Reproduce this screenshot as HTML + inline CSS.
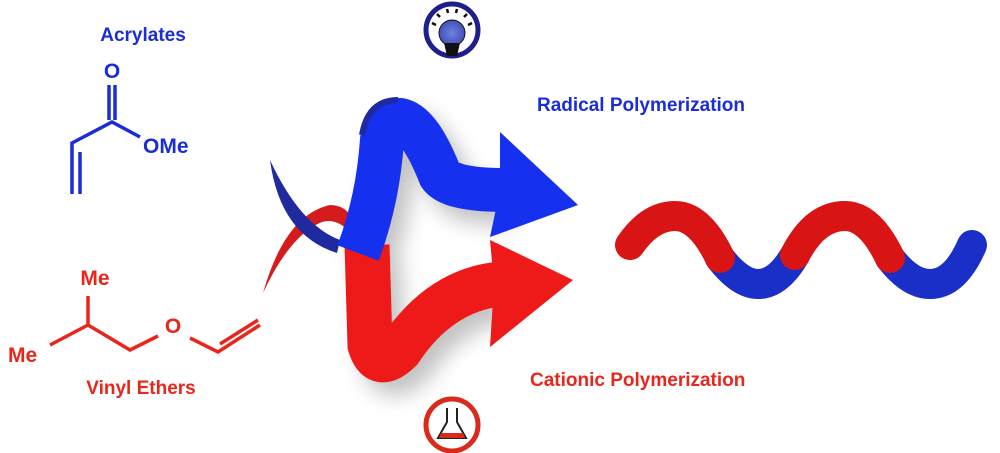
<!DOCTYPE html>
<html><head><style>
body{margin:0;background:#fff;}
svg{display:block;font-family:"Liberation Sans",Arial,sans-serif;font-weight:bold;}
</style></head><body>
<svg width="1000" height="453" viewBox="0 0 1000 453" xmlns="http://www.w3.org/2000/svg">
<defs>
<filter id="sh" x="-30%" y="-30%" width="160%" height="160%"><feGaussianBlur stdDeviation="10"/></filter>
<radialGradient id="bulb" cx="50%" cy="50%" r="60%"><stop offset="0" stop-color="#6f7fe0"/><stop offset="1" stop-color="#3a48b0"/></radialGradient>
</defs>
<!-- Acrylate -->
<g fill="#1b2ed6" font-size="19">
<text x="143" y="41" text-anchor="middle">Acrylates</text>
<text x="112" y="78" text-anchor="middle" font-size="21">O</text>
<text x="143" y="153" font-size="21">OMe</text>
</g>
<g stroke="#1b2ed6" stroke-width="3.5" fill="none">
<path d="M109,85 V120 M115,85 V120"/>
<path d="M140,137 L112,122 L72,143 V194 M80,152 V194"/>
</g>
<!-- Vinyl ether -->
<g fill="#e8261c" font-size="19">
<text x="95" y="285" text-anchor="middle" font-size="21">Me</text>
<text x="8" y="362" font-size="21">Me</text>
<text x="173" y="333" text-anchor="middle" font-size="21">O</text>
<text x="141" y="394" text-anchor="middle">Vinyl Ethers</text>
</g>
<g stroke="#e8261c" stroke-width="3.5" fill="none">
<path d="M88,296 V325 L50,345 M88,325 L130,350 L158,336"/>
<path d="M190,338 L218,352 L260,325 M220,344 L258,320"/>
</g>
<!-- icons -->
<circle cx="452" cy="30" r="26" fill="#fff" stroke="#1e1e8c" stroke-width="5"/>
<circle cx="452" cy="33" r="13" fill="url(#bulb)" stroke="#111" stroke-width="1"/>
<path d="M444,43 L460,43 L457,56 L447,56 Z" fill="#111"/>
<g stroke="#111" stroke-width="2.5"><path d="M436,25 l-4,-2 M440,17 l-3,-3 M448,13 l-1,-4 M456,13 l1,-4 M464,17 l3,-3 M468,25 l4,-2"/></g>
<circle cx="452" cy="425" r="26" fill="#fff" stroke="#d92a1c" stroke-width="5"/>
<path d="M447,408 V422 L438,438 H466 L457,422 V408" fill="none" stroke="#222" stroke-width="2"/>
<path d="M441,433 L439,438 H465 L463,433 Z" fill="#d92a1c"/>
<!-- shadows -->
<g filter="url(#sh)" opacity="0.35" transform="translate(12,14)">
<path d="M358,253 Q378,200 382,140 Q388,118 400,120 Q420,124 440,175 Q450,190 500,190" stroke="#555" stroke-width="44" fill="none"/>
<path d="M367,245 L370,345 Q378,372 400,350 Q440,290 500,284" stroke="#555" stroke-width="44" fill="none"/>
</g>
<!-- red tail -->
<path d="M263,293 Q285,215 330,205 Q345,205 352,218 L348,230 Q335,218 322,222 Q290,235 263,293 Z" fill="#d41c1c"/>
<!-- red ribbon -->
<path d="M367,245 L370,345 Q378,372 400,350 Q440,290 500,284" stroke="#ee1a1a" stroke-width="45" fill="none"/>
<polygon points="490,240 573,280 490,347 494,284" fill="#ee1a1a"/>
<!-- blue tail -->
<path d="M270,160 Q280,235 337,253 L340,240 Q300,225 270,160 Z" fill="#1e2a9e"/>
<!-- blue ribbon -->
<path d="M358,253 Q378,200 382,140 Q388,118 400,120 Q420,124 440,175 Q450,190 505,190" stroke="#1530ee" stroke-width="44" fill="none"/>
<path d="M362,135 Q368,100 398,100" stroke="#1e2a9e" stroke-width="6" fill="none"/>
<polygon points="500,132 578,205 490,237 500,190" fill="#1530ee"/>
<!-- labels -->
<text x="537" y="111" font-size="19" fill="#1b2ed6">Radical Polymerization</text>
<text x="530" y="386" font-size="19" fill="#e8261c">Cationic Polymerization</text>
<!-- polymer -->
<g fill="none" stroke-width="30" stroke-linecap="round">
<path d="M720,258 Q740,284 758,284 Q778,284 795,255" stroke="#1a2ec8"/>
<path d="M890,258 Q910,284 930,284 Q955,284 972,245" stroke="#1a2ec8"/>
<path d="M630,245 Q650,216 675,216 Q700,216 720,258" stroke="#d81414"/>
<path d="M795,255 Q815,216 845,216 Q870,216 890,258" stroke="#d81414"/>
</g>
</svg>
</body></html>
